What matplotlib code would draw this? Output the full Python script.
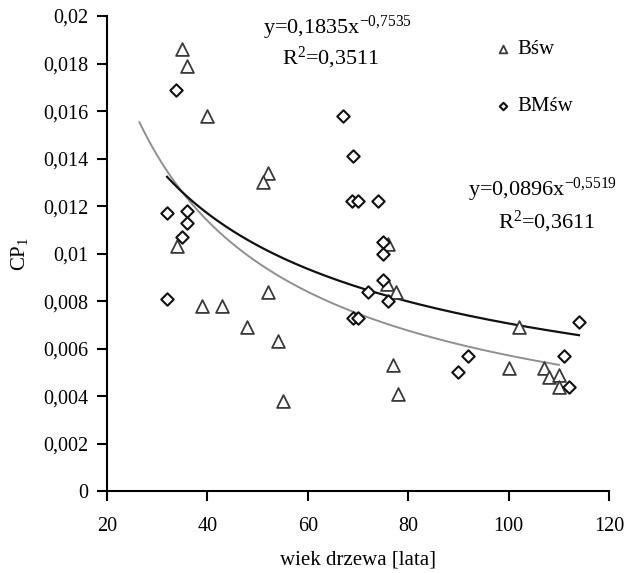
import numpy as np
import matplotlib
matplotlib.use("Agg")
import matplotlib.pyplot as plt

plt.rcParams['font.family'] = ['Liberation Serif', 'DejaVu Serif']
plt.rcParams['mathtext.fontset'] = 'custom'
plt.rcParams['mathtext.rm'] = 'Liberation Serif'
plt.rcParams['mathtext.it'] = 'Liberation Serif'

# Bśw (triangles)
bsw_age = [35, 36, 40, 52, 51, 34, 39, 43, 48, 52, 54, 55,
           76, 75.8, 77.6, 77, 78, 102, 100, 107, 108, 110, 110]
bsw_cp = [0.0186, 0.0179, 0.0158, 0.0134, 0.0130, 0.0103, 0.0078, 0.0078,
          0.0069, 0.0084, 0.0063, 0.0038, 0.0104, 0.0087, 0.0084, 0.0053,
          0.0041, 0.0069, 0.0052, 0.0052, 0.0048, 0.0049, 0.0044]

# BMśw (diamonds)
bmsw_age = [33.7, 32, 32, 36, 36, 35, 67, 69, 68.8, 70, 74, 75, 75, 75,
            72, 76, 69, 70, 114, 92, 90, 111, 112]
bmsw_cp = [0.0169, 0.0117, 0.0081, 0.0118, 0.0113, 0.0107, 0.0158, 0.0141,
           0.0122, 0.0122, 0.0122, 0.0105, 0.0100, 0.0089, 0.0084, 0.0080,
           0.0073, 0.0073, 0.0071, 0.0057, 0.0050, 0.0057, 0.0044]

# power trend lines
bsw_a, bsw_b = 0.1835, -0.7535
bmsw_a, bmsw_b = 0.0896, -0.5519

fig = plt.figure(figsize=(6.28, 5.73), dpi=100)
ax = fig.add_axes([0.170, 0.143, 0.800, 0.829])

x1 = np.linspace(26.5, 110, 200)
ax.plot(x1, bsw_a * x1 ** bsw_b, color='#909090', lw=1.4, zorder=2)
x2 = np.linspace(32, 114, 200)
ax.plot(x2, bmsw_a * x2 ** bmsw_b, color='#111111', lw=1.6, zorder=2)

ax.scatter(bsw_age, bsw_cp, marker='^', s=85, facecolors='white',
           edgecolors='#3a3a3a', linewidths=1.3, zorder=3, label='Bśw')
ax.scatter(bmsw_age, bmsw_cp, marker='D', s=40, facecolors='white',
           edgecolors='#111111', linewidths=1.5, zorder=4, label='BMśw')

ax.set_xlim(20, 120)
ax.set_ylim(0, 0.02)
ax.set_xticks([20, 40, 60, 80, 100, 120])
yt = np.arange(0, 0.0201, 0.002)
ax.set_yticks(yt)
ax.set_yticklabels(['0'] + [('%g' % v).replace('.', ',') for v in yt[1:]])

for s in ['top', 'right']:
    ax.spines[s].set_visible(False)
for s in ['left', 'bottom']:
    ax.spines[s].set_linewidth(1.5)
ax.tick_params(direction='out', length=7, width=1.5, labelsize=14.5, pad=6)
ax.tick_params(axis='x', pad=12)

ax.set_xlabel('wiek drzewa [lata]', fontsize=15, labelpad=10)
ax.set_ylabel('CP$_1$', fontsize=15, labelpad=10)

ax.text(0.46, 0.975, 'y=0,1835x$^{-0{,}7535}$', transform=ax.transAxes,
        fontsize=16, ha='center', va='center')
ax.text(0.445, 0.912, 'R$^2$=0,3511', transform=ax.transAxes,
        fontsize=16, ha='center', va='center')
ax.text(0.868, 0.634, 'y=0,0896x$^{-0{,}5519}$', transform=ax.transAxes,
        fontsize=16, ha='center', va='center')
ax.text(0.876, 0.566, 'R$^2$=0,3611', transform=ax.transAxes,
        fontsize=16, ha='center', va='center')

leg = ax.legend(loc='upper left', bbox_to_anchor=(0.73, 0.99), frameon=False,
                fontsize=15, markerscale=0.6, labelspacing=1.8,
                handletextpad=0.2, handlelength=1.0)

fig.savefig('out.png', dpi=100)
